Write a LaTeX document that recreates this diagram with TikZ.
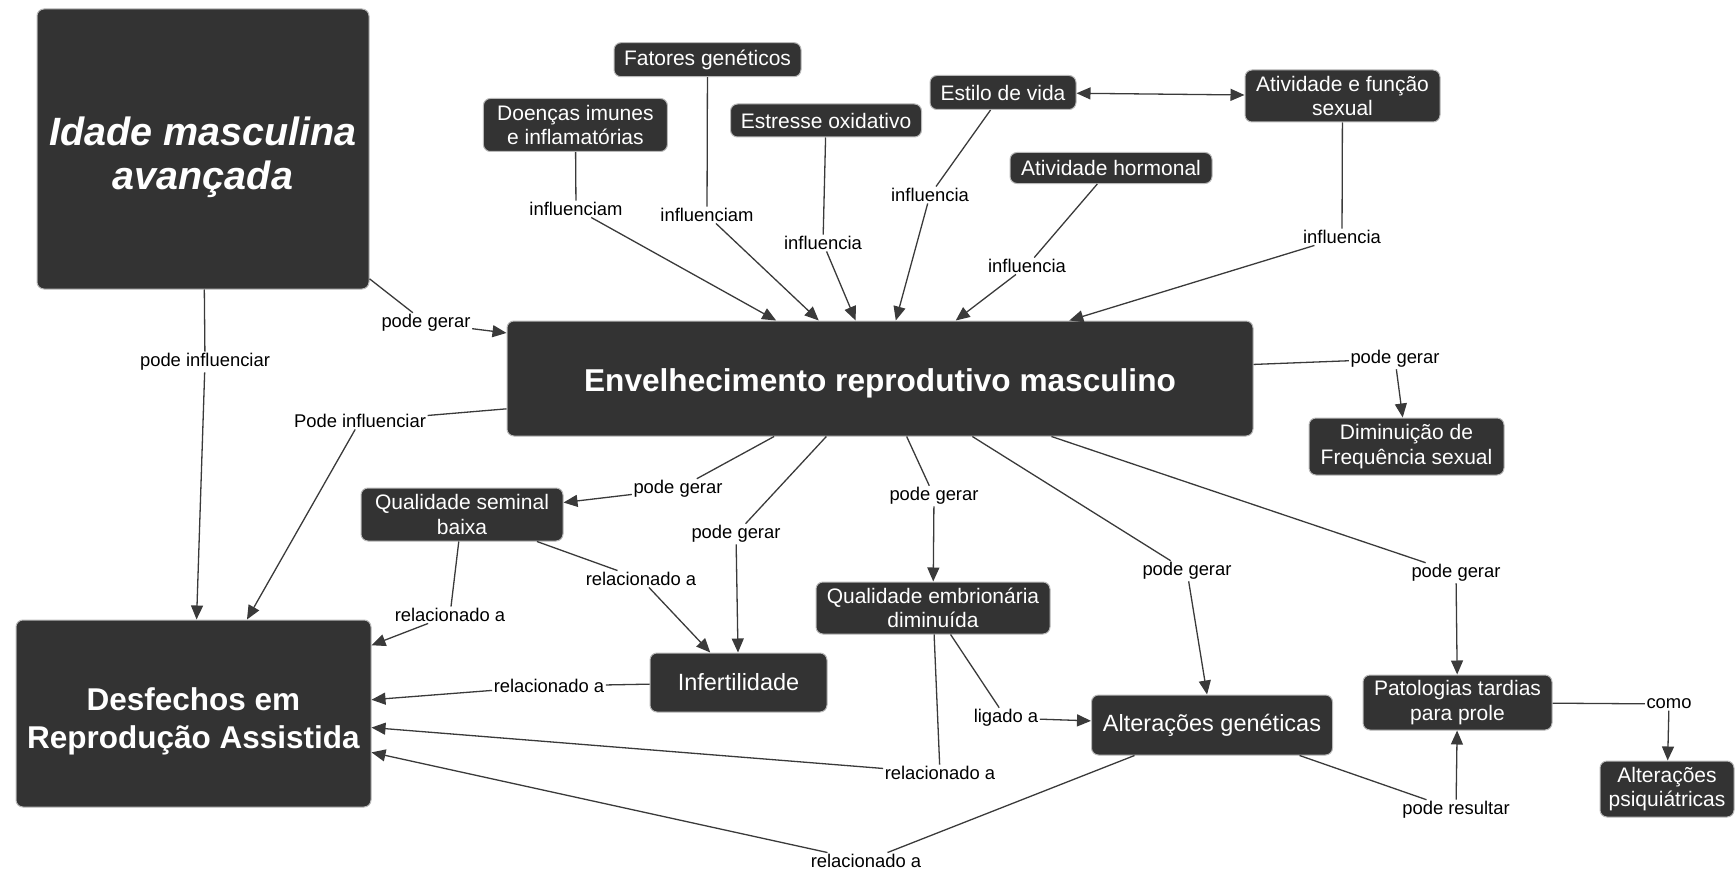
\documentclass[tikz,border=0pt]{standalone}
\usepackage{fontspec}
\setmainfont{Liberation Sans}
\usetikzlibrary{arrows.meta}
\definecolor{boxgray}{HTML}{333333}
\definecolor{linkgray}{HTML}{3A3A3A}

\begin{document}
\begin{tikzpicture}[x=1pt, y=-1pt, >={Triangle[length=14pt,width=12pt]},
    box/.style={draw=gray!55, line width=1pt, fill=boxgray, rounded corners=7pt, text=white, align=center, inner sep=0pt, font=\fontsize{21}{24.5}\selectfont},
    lbl/.style={inner sep=1.5pt, text=black, font=\fontsize{18.4}{20}\selectfont},
    link/.style={draw=linkgray, line width=1.3pt}]
    \useasboundingbox (0,0) rectangle (1735,872);
    % concepts
    \node[box, minimum width=332pt, minimum height=280pt, font=\fontsize{39.5}{44}\selectfont\bfseries\itshape] (idade) at (203,149) {\rule{0pt}{45pt}Idade masculina\\avançada};
    \node[box, minimum width=746pt, minimum height=115pt, font=\fontsize{31.6}{36}\selectfont\bfseries] (env) at (880,378.5) {\rule{0pt}{32pt}Envelhecimento reprodutivo masculino};
    \node[box, minimum width=355pt, minimum height=187pt, font=\fontsize{31.5}{37.6}\selectfont\bfseries] (desf) at (193.5,713.5) {\rule{0pt}{39pt}Desfechos em\\Reprodução Assistida};
    \node[box, minimum width=187pt, minimum height=34pt] (fatores) at (707.5,59.7) {Fatores genéticos};
    \node[box, minimum width=184pt, minimum height=53pt] (doencas) at (575.4,125) {Doenças imunes\\e inflamatórias};
    \node[box, minimum width=191pt, minimum height=33pt] (estresse) at (826,120.5) {Estresse oxidativo};
    \node[box, minimum width=146pt, minimum height=34pt] (estilo) at (1003,92.5) {Estilo de vida};
    \node[box, minimum width=195pt, minimum height=52pt] (ativsex) at (1342.5,96) {Atividade e função\\sexual};
    \node[box, minimum width=202pt, minimum height=31pt] (hormonal) at (1111,168) {Atividade hormonal};
    \node[box, minimum width=195pt, minimum height=57pt] (dimin) at (1406.5,446.5) {Diminuição de\\Frequência sexual};
    \node[box, minimum width=202pt, minimum height=53pt] (qsem) at (462,514.5) {Qualidade seminal\\baixa};
    \node[box, minimum width=177pt, minimum height=59pt, font=\fontsize{23.5}{27}\selectfont] (infert) at (738.5,682.5) {Infertilidade};
    \node[box, minimum width=234pt, minimum height=52pt] (qemb) at (933,608) {Qualidade embrionária\\diminuída};
    \node[box, minimum width=241pt, minimum height=60pt, font=\fontsize{23.5}{27}\selectfont] (altgen) at (1212,725) {Alterações genéticas};
    \node[box, minimum width=189pt, minimum height=55pt] (patol) at (1457.5,702.5) {Patologias tardias\\para prole};
    \node[box, minimum width=134pt, minimum height=56pt] (psiq) at (1667,789) {Alterações\\psiquiátricas};
    % linking phrases
    \node[lbl] (lg1) at (426,323) {pode gerar};
    \node[lbl] (lpi1) at (205,362) {pode influenciar};
    \node[lbl] (lpi2) at (360,421) {Pode influenciar};
    \node[lbl] (li1) at (576,209) {influenciam};
    \node[lbl] (li2) at (707,215) {influenciam};
    \node[lbl] (li3) at (823,243) {influencia};
    \node[lbl] (li4) at (930,195) {influencia};
    \node[lbl] (li5) at (1027,266) {influencia};
    \node[lbl] (li6) at (1342,237) {influencia};
    \node[lbl] (lg2) at (1395,359) {pode gerar};
    \node[lbl] (lg3) at (678,489) {pode gerar};
    \node[lbl] (lg4) at (736,534) {pode gerar};
    \node[lbl] (lg5) at (934,496) {pode gerar};
    \node[lbl] (lg6) at (1187,571) {pode gerar};
    \node[lbl] (lg7) at (1456,573) {pode gerar};
    \node[lbl] (lr1) at (450,615) {relacionado a};
    \node[lbl] (lr2) at (641,579) {relacionado a};
    \node[lbl] (lr3) at (549,686) {relacionado a};
    \node[lbl] (lr4) at (940,773) {relacionado a};
    \node[lbl] (llig) at (1006,718) {ligado a};
    \node[lbl] (lr5) at (866,861) {relacionado a};
    \node[lbl] (lres) at (1456,810) {pode resultar};
    \node[lbl] (lcomo) at (1669,704) {como};
    % connectors
    \foreach \src/\lab in {doencas/li1, fatores/li2, estresse/li3, estilo/li4, hormonal/li5, ativsex/li6} {
        \draw[link] (\src) -- (\lab);
        \draw[link, ->] (\lab) -- (env);
    }
    \draw[link, <->] (estilo) -- (ativsex);
    \draw[link] (idade) -- (lg1); \draw[link, ->] (lg1) -- (env);
    \draw[link] (idade) -- (lpi1); \draw[link, ->] (lpi1) -- (desf);
    \draw[link] (env) -- (lpi2); \draw[link, ->] (lpi2) -- (desf);
    \draw[link] (env) -- (lg2); \draw[link, ->] (lg2) -- (dimin);
    \draw[link] (env) -- (lg3); \draw[link, ->] (lg3) -- (qsem);
    \draw[link] (env) -- (lg4); \draw[link, ->] (lg4) -- (infert);
    \draw[link] (env) -- (lg5); \draw[link, ->] (lg5) -- (qemb);
    \draw[link] (env) -- (lg6); \draw[link, ->] (lg6) -- (altgen);
    \draw[link] (env) -- (lg7); \draw[link, ->] (lg7) -- (patol);
    \draw[link] (qsem) -- (lr1); \draw[link, ->] (lr1) -- (desf);
    \draw[link] (qsem) -- (lr2); \draw[link, ->] (lr2) -- (infert);
    \draw[link] (infert) -- (lr3); \draw[link, ->] (lr3) -- (desf);
    \draw[link] (qemb) -- (lr4); \draw[link, ->] (lr4) -- (desf);
    \draw[link] (qemb) -- (llig); \draw[link, ->] (llig) -- (altgen);
    \draw[link] (altgen) -- (lr5); \draw[link, ->] (lr5) -- (desf);
    \draw[link] (altgen) -- (lres); \draw[link, ->] (lres) -- (patol);
    \draw[link] (patol) -- (lcomo); \draw[link, ->] (lcomo) -- (psiq);
\end{tikzpicture}
\end{document}
